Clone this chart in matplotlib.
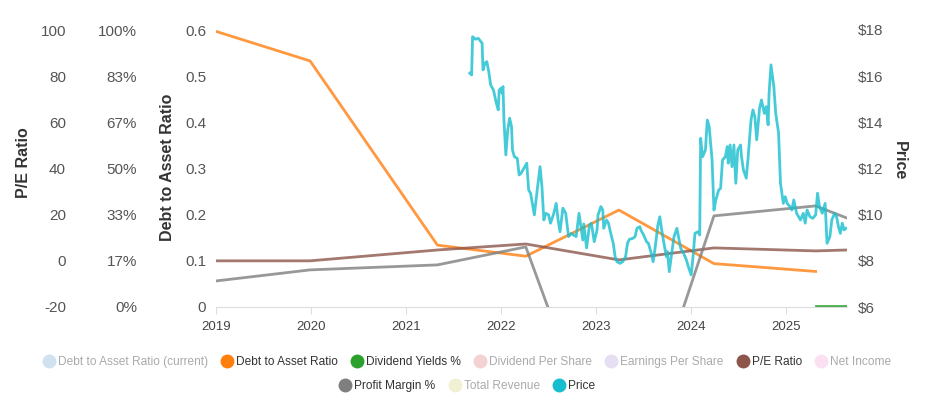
import matplotlib
matplotlib.use('Agg')
import matplotlib.pyplot as plt
from matplotlib.lines import Line2D

plt.rcParams['font.family'] = ['Liberation Sans', 'DejaVu Sans']

# fiscal report dates (fractional years) and values
debt_dates = [2019.0, 2019.99, 2021.33, 2022.26, 2023.24, 2024.24, 2025.31]
debt_vals = [0.597, 0.533, 0.134, 0.110, 0.210, 0.094, 0.077]

pe_dates = [2019.0, 2019.99, 2021.33, 2022.26, 2023.24, 2024.24, 2025.31, 2025.64]
pe_vals = [0.0, 0.0, 4.7, 7.3, 0.4, 5.6, 4.3, 4.7]

pm_dates = [2019.0, 2019.99, 2021.33, 2022.26, 2023.24, 2024.24, 2025.31, 2025.64]
pm_vals = [9.4, 13.4, 15.2, 21.7, -70.0, 32.9, 36.5, 32.1]

div_dates = [2025.31, 2025.64]
div_vals = [0.3, 0.3]

price_dates = [
    2021.67, 2021.69, 2021.70, 2021.73, 2021.76, 2021.80, 2021.81, 2021.83, 2021.85, 2021.87,
    2021.89, 2021.92, 2021.95, 2021.97, 2021.98, 2022.00, 2022.01, 2022.02, 2022.03, 2022.05,
    2022.07, 2022.09, 2022.11, 2022.12, 2022.14, 2022.17, 2022.19, 2022.21, 2022.24, 2022.27,
    2022.29, 2022.31, 2022.35, 2022.38, 2022.41, 2022.43, 2022.45, 2022.47, 2022.50, 2022.52,
    2022.55, 2022.58, 2022.60, 2022.62, 2022.65, 2022.68, 2022.71, 2022.74, 2022.76, 2022.79,
    2022.82, 2022.86, 2022.87, 2022.90, 2022.93, 2022.95, 2022.98, 2023.01, 2023.02, 2023.05,
    2023.07, 2023.08, 2023.11, 2023.13, 2023.15, 2023.18, 2023.20, 2023.22, 2023.25, 2023.28,
    2023.31, 2023.33, 2023.35, 2023.39, 2023.41, 2023.43, 2023.46, 2023.47, 2023.50, 2023.53,
    2023.55, 2023.58, 2023.60, 2023.62, 2023.65, 2023.67, 2023.69, 2023.72, 2023.74, 2023.75,
    2023.77, 2023.80, 2023.82, 2023.85, 2023.87, 2023.89, 2023.92, 2023.95, 2023.97, 2024.00,
    2024.02, 2024.04, 2024.07, 2024.09, 2024.10, 2024.12, 2024.15, 2024.17, 2024.19, 2024.22,
    2024.24, 2024.26, 2024.29, 2024.31, 2024.33, 2024.36, 2024.38, 2024.39, 2024.41, 2024.43,
    2024.45, 2024.47, 2024.49, 2024.52, 2024.53, 2024.55, 2024.58, 2024.60, 2024.63, 2024.65,
    2024.67, 2024.69, 2024.72, 2024.74, 2024.77, 2024.79, 2024.81, 2024.82, 2024.84, 2024.87,
    2024.89, 2024.92, 2024.94, 2024.97, 2024.99, 2025.01, 2025.04, 2025.06, 2025.08, 2025.11,
    2025.13, 2025.15, 2025.18, 2025.20, 2025.22, 2025.25, 2025.28, 2025.31, 2025.33, 2025.35,
    2025.38, 2025.40, 2025.41, 2025.43, 2025.46, 2025.48, 2025.51, 2025.53, 2025.55, 2025.57,
    2025.59, 2025.61, 2025.63]
price_vals = [
    16.13, 16.05, 17.71, 17.60, 17.64, 17.43, 16.27, 16.56, 16.63, 16.20,
    15.62, 15.40, 14.83, 14.54, 15.40, 15.48, 15.26, 15.55, 14.10, 12.59,
    13.67, 14.18, 13.81, 12.80, 12.51, 12.44, 11.72, 11.79, 12.01, 12.23,
    11.07, 10.93, 9.99, 11.07, 12.08, 11.21, 9.77, 10.06, 9.99, 9.63,
    9.99, 10.49, 9.77, 9.26, 10.28, 10.06, 9.05, 9.19, 9.12, 9.05,
    10.06, 8.90, 9.60, 8.56, 9.55, 9.63, 8.83, 9.34, 9.99, 10.35,
    10.20, 9.41, 9.77, 9.63, 9.26, 8.76, 8.18, 7.96, 7.89, 7.96,
    8.18, 8.76, 8.93, 8.98, 9.05, 9.41, 9.48, 9.34, 9.12, 8.83,
    8.76, 8.33, 7.96, 8.54, 9.55, 9.91, 9.34, 8.61, 8.18, 8.40,
    7.53, 8.47, 9.05, 9.41, 8.98, 8.54, 8.33, 8.04, 7.75, 7.39,
    8.18, 9.19, 9.26, 9.12, 13.31, 12.51, 12.80, 14.10, 13.81, 12.37,
    10.20, 10.64, 11.07, 11.14, 12.37, 12.51, 12.95, 12.23, 13.02, 12.08,
    13.02, 11.36, 12.80, 13.02, 12.51, 11.94, 11.58, 12.51, 14.10, 14.54,
    14.25, 13.24, 14.61, 14.97, 14.39, 14.68, 13.89, 15.26, 16.49, 15.55,
    14.39, 13.53, 11.36, 10.49, 10.78, 10.49, 10.35, 10.20, 10.64, 10.06,
    9.91, 9.77, 10.06, 9.63, 10.20, 9.91, 9.84, 9.99, 10.93, 10.35,
    10.06, 10.35, 10.49, 8.76, 9.05, 9.77, 10.06, 9.91, 9.48, 9.19,
    9.63, 9.34, 9.41]

years = [2019, 2020, 2021, 2022, 2023, 2024, 2025]
debt_ticks = [0, 0.1, 0.2, 0.3, 0.4, 0.5, 0.6]
pe_ticks = [-20, 0, 20, 40, 60, 80, 100]
pct_ticks = [0, 100/6, 200/6, 50, 400/6, 500/6, 100]
price_ticks = [6, 8, 10, 12, 14, 16, 18]

legend_row1 = [('Debt to Asset Ratio (current)', '#d0e2f0', False),
               ('Debt to Asset Ratio', '#ff7f0e', True),
               ('Dividend Yields %', '#2ca02c', True),
               ('Dividend Per Share', '#f5d2d2', False),
               ('Earnings Per Share', '#e6def2', False),
               ('P/E Ratio', '#8c564b', True),
               ('Net Income', '#fae0f1', False)]
legend_row2 = [('Profit Margin %', '#7f7f7f', True),
               ('Total Revenue', '#f0f0d2', False),
               ('Price', '#17becf', True)]

tick_col = '#555555'
lw = 2.0

fig = plt.figure(figsize=(9.36, 4.0), dpi=100)
ax = fig.add_axes([216/936, 1-307/400, 631/936, 277/400])
ax_pe = ax.twinx()
ax_pct = ax.twinx()
ax_pr = ax.twinx()

ax.plot(debt_dates, debt_vals, color='#ff7f0e', alpha=0.8, lw=lw)
ax_pct.plot(div_dates, div_vals, color='#2ca02c', alpha=0.85, lw=lw)
ax_pe.plot(pe_dates, pe_vals, color='#8c564b', alpha=0.8, lw=lw)
ax_pct.plot(pm_dates, pm_vals, color='#7f7f7f', alpha=0.8, lw=lw)
ax_pr.plot(price_dates, price_vals, color='#17becf', alpha=0.8, lw=lw)

ax.set_xlim(2019.0, 2025.64)
ax.set_ylim(0, 0.6)
ax_pe.set_ylim(-20, 100)
ax_pct.set_ylim(0, 100)
ax_pr.set_ylim(6, 18)

for a in (ax, ax_pe, ax_pct, ax_pr):
    for s in a.spines.values():
        s.set_visible(False)
    a.patch.set_visible(False)

ax.spines['bottom'].set_visible(True)
ax.spines['bottom'].set_color('#dddddd')
ax.set_xticks(years)
ax.set_xticklabels([str(y) for y in years])
ax.tick_params(axis='x', colors='#dddddd', labelcolor='#444444', labelsize=9.5,
               length=5, pad=5)

ax.set_yticks(debt_ticks)
ax.set_yticklabels(['0', '0.1', '0.2', '0.3', '0.4', '0.5', '0.6'])
ax.tick_params(axis='y', length=0, pad=7, labelsize=11, labelcolor=tick_col)

ax_pe.yaxis.set_ticks_position('left')
ax_pe.spines['left'].set_position(('axes', (66-216)/631))
ax_pe.set_yticks(pe_ticks)
ax_pe.set_yticklabels([str(v) for v in pe_ticks])
ax_pe.tick_params(axis='y', length=0, pad=0, labelsize=11, labelcolor=tick_col)

ax_pct.yaxis.set_ticks_position('left')
ax_pct.spines['left'].set_position(('axes', (137-216)/631))
ax_pct.set_yticks(pct_ticks)
ax_pct.set_yticklabels(['0%', '17%', '33%', '50%', '67%', '83%', '100%'])
ax_pct.tick_params(axis='y', length=0, pad=0, labelsize=11, labelcolor=tick_col)

ax_pr.set_yticks(price_ticks)
ax_pr.set_yticklabels(['$%d' % v for v in price_ticks])
ax_pr.tick_params(axis='y', length=0, pad=8, labelsize=11, labelcolor=tick_col)

fig.text(23/936, 1-163/400, 'P/E Ratio', rotation=90, ha='center', va='center',
         fontsize=11.5, fontweight='bold', color='#333333')
fig.text(168/936, 1-167/400, 'Debt to Asset Ratio', rotation=90, ha='center',
         va='center', fontsize=11.5, fontweight='bold', color='#333333')
fig.text(899/936, 1-161/400, 'Price', rotation=-90, ha='center', va='center',
         fontsize=11.5, fontweight='bold', color='#333333')


def make_legend(items, ypix):
    handles = [Line2D([], [], marker='o', linestyle='none', markersize=9,
                      markerfacecolor=c, markeredgecolor=c) for _, c, _ in items]
    labels = [n for n, _, _ in items]
    leg = fig.legend(handles, labels, loc='center', bbox_to_anchor=(0.5, 1-ypix/400),
                     ncol=len(items), frameon=False, fontsize=8.6, handlelength=0.7,
                     handletextpad=0.4, columnspacing=1.25, borderpad=0)
    for t, (_, _, on) in zip(leg.get_texts(), items):
        t.set_color('#333333' if on else '#aaaaaa')
    return leg


make_legend(legend_row1, 362)
make_legend(legend_row2, 386)

fig.savefig('out.png', dpi=100)
